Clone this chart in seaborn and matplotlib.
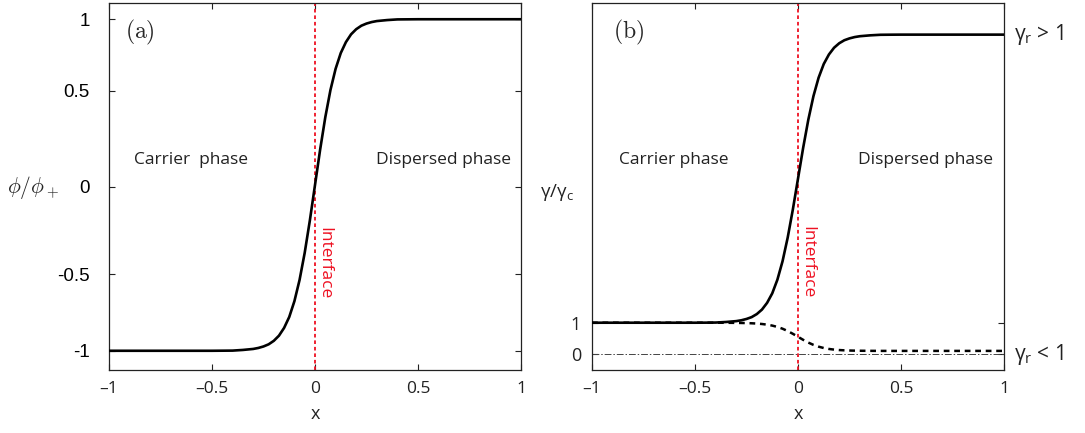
import numpy as np
import pandas as pd
import matplotlib
matplotlib.use("Agg")
import matplotlib.pyplot as plt
import seaborn as sns

# ---------------- data ----------------
x_vals = [-1.0, -0.6, -0.5, -0.45, -0.4, -0.35, -0.3, -0.275, -0.25, -0.225,
          -0.2, -0.175, -0.15, -0.125, -0.1, -0.075, -0.05, -0.025, 0.0,
          0.025, 0.05, 0.075, 0.1, 0.125, 0.15, 0.175, 0.2, 0.225, 0.25,
          0.275, 0.3, 0.35, 0.4, 0.45, 0.5, 0.6, 1.0]
phi_vals = [-1.0, -1.0, -1.0, -0.9995, -0.999, -0.995, -0.989, -0.983, -0.974, -0.961,
            -0.940, -0.909, -0.862, -0.796, -0.701, -0.573, -0.409, -0.214, 0.0,
            0.214, 0.409, 0.573, 0.701, 0.796, 0.862, 0.909, 0.940, 0.961, 0.974,
            0.983, 0.989, 0.995, 0.999, 0.9995, 1.0, 1.0, 1.0]
gamma_high = [1.0, 1.0, 1.0, 1.002, 1.005, 1.023, 1.051, 1.078, 1.120, 1.179,
              1.276, 1.419, 1.635, 1.938, 2.375, 2.964, 3.719, 4.616, 5.6,
              6.584, 7.481, 8.236, 8.825, 9.262, 9.565, 9.781, 9.924, 10.021, 10.080,
              10.122, 10.149, 10.177, 10.195, 10.198, 10.2, 10.2, 10.2]
gamma_low = [1.0, 1.0, 1.0, 1.0, 1.0, 0.998, 0.995, 0.992, 0.988, 0.982,
             0.973, 0.959, 0.938, 0.908, 0.865, 0.808, 0.734, 0.646, 0.55,
             0.454, 0.366, 0.292, 0.235, 0.192, 0.162, 0.141, 0.127, 0.118, 0.112,
             0.108, 0.105, 0.102, 0.1, 0.1, 0.1, 0.1, 0.1]

x_ticks = [-1, -0.5, 0, 0.5, 1]
x_ticklabels = ["\u20131", "\u20130.5", "0", "0.5", "1"]
phi_tick_pos = [1.0, 0.57, -0.01, -0.537, -1.0]
phi_ticklabels = ["1", "0.5", "0", "-0.5", "-1"]
gamma_ticks = [0, 1]
gamma_ticklabels = ["0", "1"]

df_a = pd.DataFrame({"x": x_vals, "phi": phi_vals})
df_b = pd.DataFrame({"x": x_vals, "high": gamma_high, "low": gamma_low})

# ---------------- style ----------------
sns.set_theme(style="ticks")
plt.rcParams["font.family"] = ["Open Sans", "DejaVu Sans"]
plt.rcParams["mathtext.fontset"] = "custom"
plt.rcParams["mathtext.rm"] = "Open Sans"
plt.rcParams["mathtext.it"] = "Open Sans:italic"
plt.rcParams["mathtext.bf"] = "Open Sans:bold"
plt.rcParams["axes.edgecolor"] = "#222222"
plt.rcParams["axes.linewidth"] = 0.9

fig = plt.figure(figsize=(10.85, 4.33), dpi=100)
ax_a = fig.add_axes([109 / 1085, 1 - 370 / 433, 412 / 1085, 367 / 433])
ax_b = fig.add_axes([592 / 1085, 1 - 370 / 433, 412 / 1085, 367 / 433])

txt_col = "#222222"
red = "#ee1122"
fs_text = 12.5

# ---------------- lines ----------------
sns.lineplot(data=df_a, x="x", y="phi", ax=ax_a, color="black", lw=1.9,
             sort=False, zorder=3)
sns.lineplot(data=df_b, x="x", y="high", ax=ax_b, color="black", lw=1.9,
             sort=False, zorder=3)
sns.lineplot(data=df_b, x="x", y="low", ax=ax_b, color="black", lw=1.8,
             sort=False, linestyle=(0, (2.3, 1.9)), zorder=3)
ax_b.axhline(0, color="#444444", lw=0.7, ls=(0, (7, 2, 1.5, 2)), zorder=2)

for ax in (ax_a, ax_b):
    ax.axvline(0, color=red, lw=1.3, ls=(0, (2.0, 1.6)), zorder=1)
    ax.set_xlim(-1, 1)
    ax.set_xticks(x_ticks)
    ax.set_xticklabels(x_ticklabels, fontsize=12.5, color=txt_col)
    ax.tick_params(axis="both", direction="in", length=4, width=0.8,
                   top=True, right=True, colors="#222222")
    ax.tick_params(axis="x", pad=8)
    ax.set_xlabel("x", fontsize=13, color=txt_col, labelpad=6)
    ax.set_ylabel("")
    ax.grid(False)

# ---------------- panel (a) ----------------
ax_a.set_ylim(-1.116, 1.098)
ax_a.set_yticks(phi_tick_pos)
ax_a.set_yticklabels(phi_ticklabels, fontsize=13.5, family="Liberation Sans",
                     color="black")
ax_a.tick_params(axis="y", pad=14)
ax_a.text(-0.185, 0.497, r"$\phi/\phi_+$", transform=ax_a.transAxes, fontsize=15.5,
          math_fontfamily="cm", ha="center", va="center")
ax_a.text(0.04, 0.92, r"$(\mathrm{a})$", transform=ax_a.transAxes, fontsize=17,
          math_fontfamily="cm", ha="left", va="center")
ax_a.text(-0.6, 0.15, "Carrier  phase", fontsize=fs_text, color=txt_col,
          ha="center", va="center")
ax_a.text(0.626, 0.15, "Dispersed phase", fontsize=fs_text, color=txt_col,
          ha="center", va="center")
ax_a.text(0.045, -0.47, "Interface", fontsize=fs_text, color=red, rotation=-90,
          ha="center", va="center")

# ---------------- panel (b) ----------------
ax_b.set_ylim(-0.51, 11.21)
ax_b.set_yticks(gamma_ticks)
ax_b.set_yticklabels(gamma_ticklabels, fontsize=13, color=txt_col)
ax_b.tick_params(axis="y", pad=8)
ax_b.text(-0.085, 0.485, r"$\mathrm{γ/γ_c}$", transform=ax_b.transAxes,
          fontsize=13.5, color=txt_col, ha="center", va="center")
ax_b.text(0.05, 0.92, r"$(\mathrm{b})$", transform=ax_b.transAxes, fontsize=17,
          math_fontfamily="cm", ha="left", va="center")
ax_b.text(-0.605, 6.2, "Carrier phase", fontsize=fs_text, color=txt_col,
          ha="center", va="center")
ax_b.text(0.62, 6.2, "Dispersed phase", fontsize=fs_text, color=txt_col,
          ha="center", va="center")
ax_b.text(0.045, 2.95, "Interface", fontsize=fs_text, color=red, rotation=-90,
          ha="center", va="center")
ax_b.text(1.025, 10.2, r"$\mathrm{γ_r}$ > 1", transform=ax_b.get_yaxis_transform(),
          fontsize=15, color=txt_col, ha="left", va="center")
ax_b.text(1.025, 0.0, r"$\mathrm{γ_r}$ < 1", transform=ax_b.get_yaxis_transform(),
          fontsize=15, color=txt_col, ha="left", va="center")

fig.savefig("out.png", dpi=100)
